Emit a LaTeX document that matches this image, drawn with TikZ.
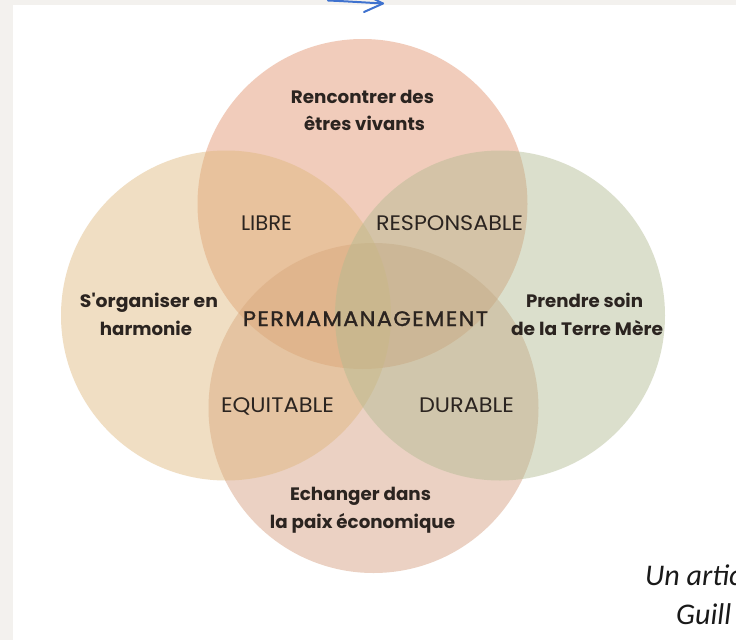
\documentclass[tikz,border=0pt]{standalone}
\usepackage{fontspec}
\usepackage{graphicx}
\setmainfont{Poppins}
\newfontfamily\capfont{Carlito}
\definecolor{ink}{HTML}{2B2420}
\definecolor{cTop}{HTML}{E2906A}
\definecolor{cBot}{HTML}{D39B7A}
\definecolor{cLeft}{HTML}{DEB67A}
\definecolor{cRight}{HTML}{B1BA90}
\definecolor{framegray}{HTML}{F3F1EE}
\definecolor{arrowblue}{HTML}{3F72CF}
\newcommand{\fitw}[2]{\resizebox{#1}{\height}{#2}}
\newcommand{\straightq}{{\addfontfeature{Ligatures=TeXOff}'}}
\begin{document}
\begin{tikzpicture}[x=1pt,y=-1pt,
  petal/.style={fill=#1, fill opacity=0.45, draw=none},
  boldlbl/.style={anchor=base, inner sep=0pt, text=ink, font=\fontsize{18}{20}\selectfont\bfseries},
  thinlbl/.style={anchor=base, inner sep=0pt, text=ink, font=\fontsize{21}{24}\selectfont},
  corelbl/.style={anchor=base, inner sep=0pt, text=ink, font=\fontsize{21}{24}\selectfont\addfontfeature{LetterSpace=6,FakeBold=1.2}},
  caplbl/.style={anchor=base west, inner sep=0pt, text=black!90, font=\capfont\itshape\fontsize{30}{34}\selectfont},
  bluepen/.style={arrowblue, line width=2pt, line cap=round, line join=round}]
\useasboundingbox (0,0) rectangle (736,640);
\fill[framegray] (0,0) rectangle (736,640);
\fill[white] (13,5) rectangle (736,640);
% circles
\fill[petal=cTop]   (362.5,204) circle[radius=165];
\fill[petal=cBot]   (373.5,408) circle[radius=165];
\fill[petal=cLeft]  (226,315.5) circle[radius=165];
\fill[petal=cRight] (500,315.5) circle[radius=165];
% outer labels
\node[boldlbl] (t1) at (362.5,103) {\fitw{143pt}{Rencontrer des}};
\node[boldlbl] (t2) at (364.5,130) {\fitw{121pt}{êtres vivants}};
\node[boldlbl] (l1) at (149,307) {\fitw{138pt}{S\straightq organiser en}};
\node[boldlbl] (l2) at (146,335) {\fitw{92pt}{harmonie}};
\node[boldlbl] (r1) at (584.5,307) {\fitw{117pt}{Prendre soin}};
\node[boldlbl] (r2) at (587,335) {\fitw{152pt}{de la Terre Mère}};
\node[boldlbl] (b1) at (360.5,500) {\fitw{141pt}{Echanger dans}};
\node[boldlbl] (b2) at (362.5,528) {\fitw{185pt}{la paix économique}};
% inner labels
\node[thinlbl] (libre) at (266.5,230) {\fitw{51pt}{LIBRE}};
\node[thinlbl] (resp) at (449.5,230) {\fitw{147pt}{RESPONSABLE}};
\node[thinlbl] (equi) at (277.5,412) {\fitw{113pt}{EQUITABLE}};
\node[thinlbl] (dura) at (466.5,412) {\fitw{95pt}{DURABLE}};
\node[corelbl] (core) at (365.5,326) {\fitw{245pt}{PERMAMANAGEMENT}};
% caption fragments
\node[caplbl] (cap1) at (645,585) {Un artic};
\node[caplbl] (cap2) at (676,624) {Guill};
% blue arrow fragment
\coordinate (a0) at (328,0.5);
\coordinate (a1) at (383,3.5);
\coordinate (w1) at (364,12);
\coordinate (w2) at (366,-5);
\draw[bluepen] (a0) .. controls (345,1.2) and (365,2.5) .. (a1);
\draw[bluepen] (w1) -- (a1) -- (w2);
\end{tikzpicture}
\end{document}
